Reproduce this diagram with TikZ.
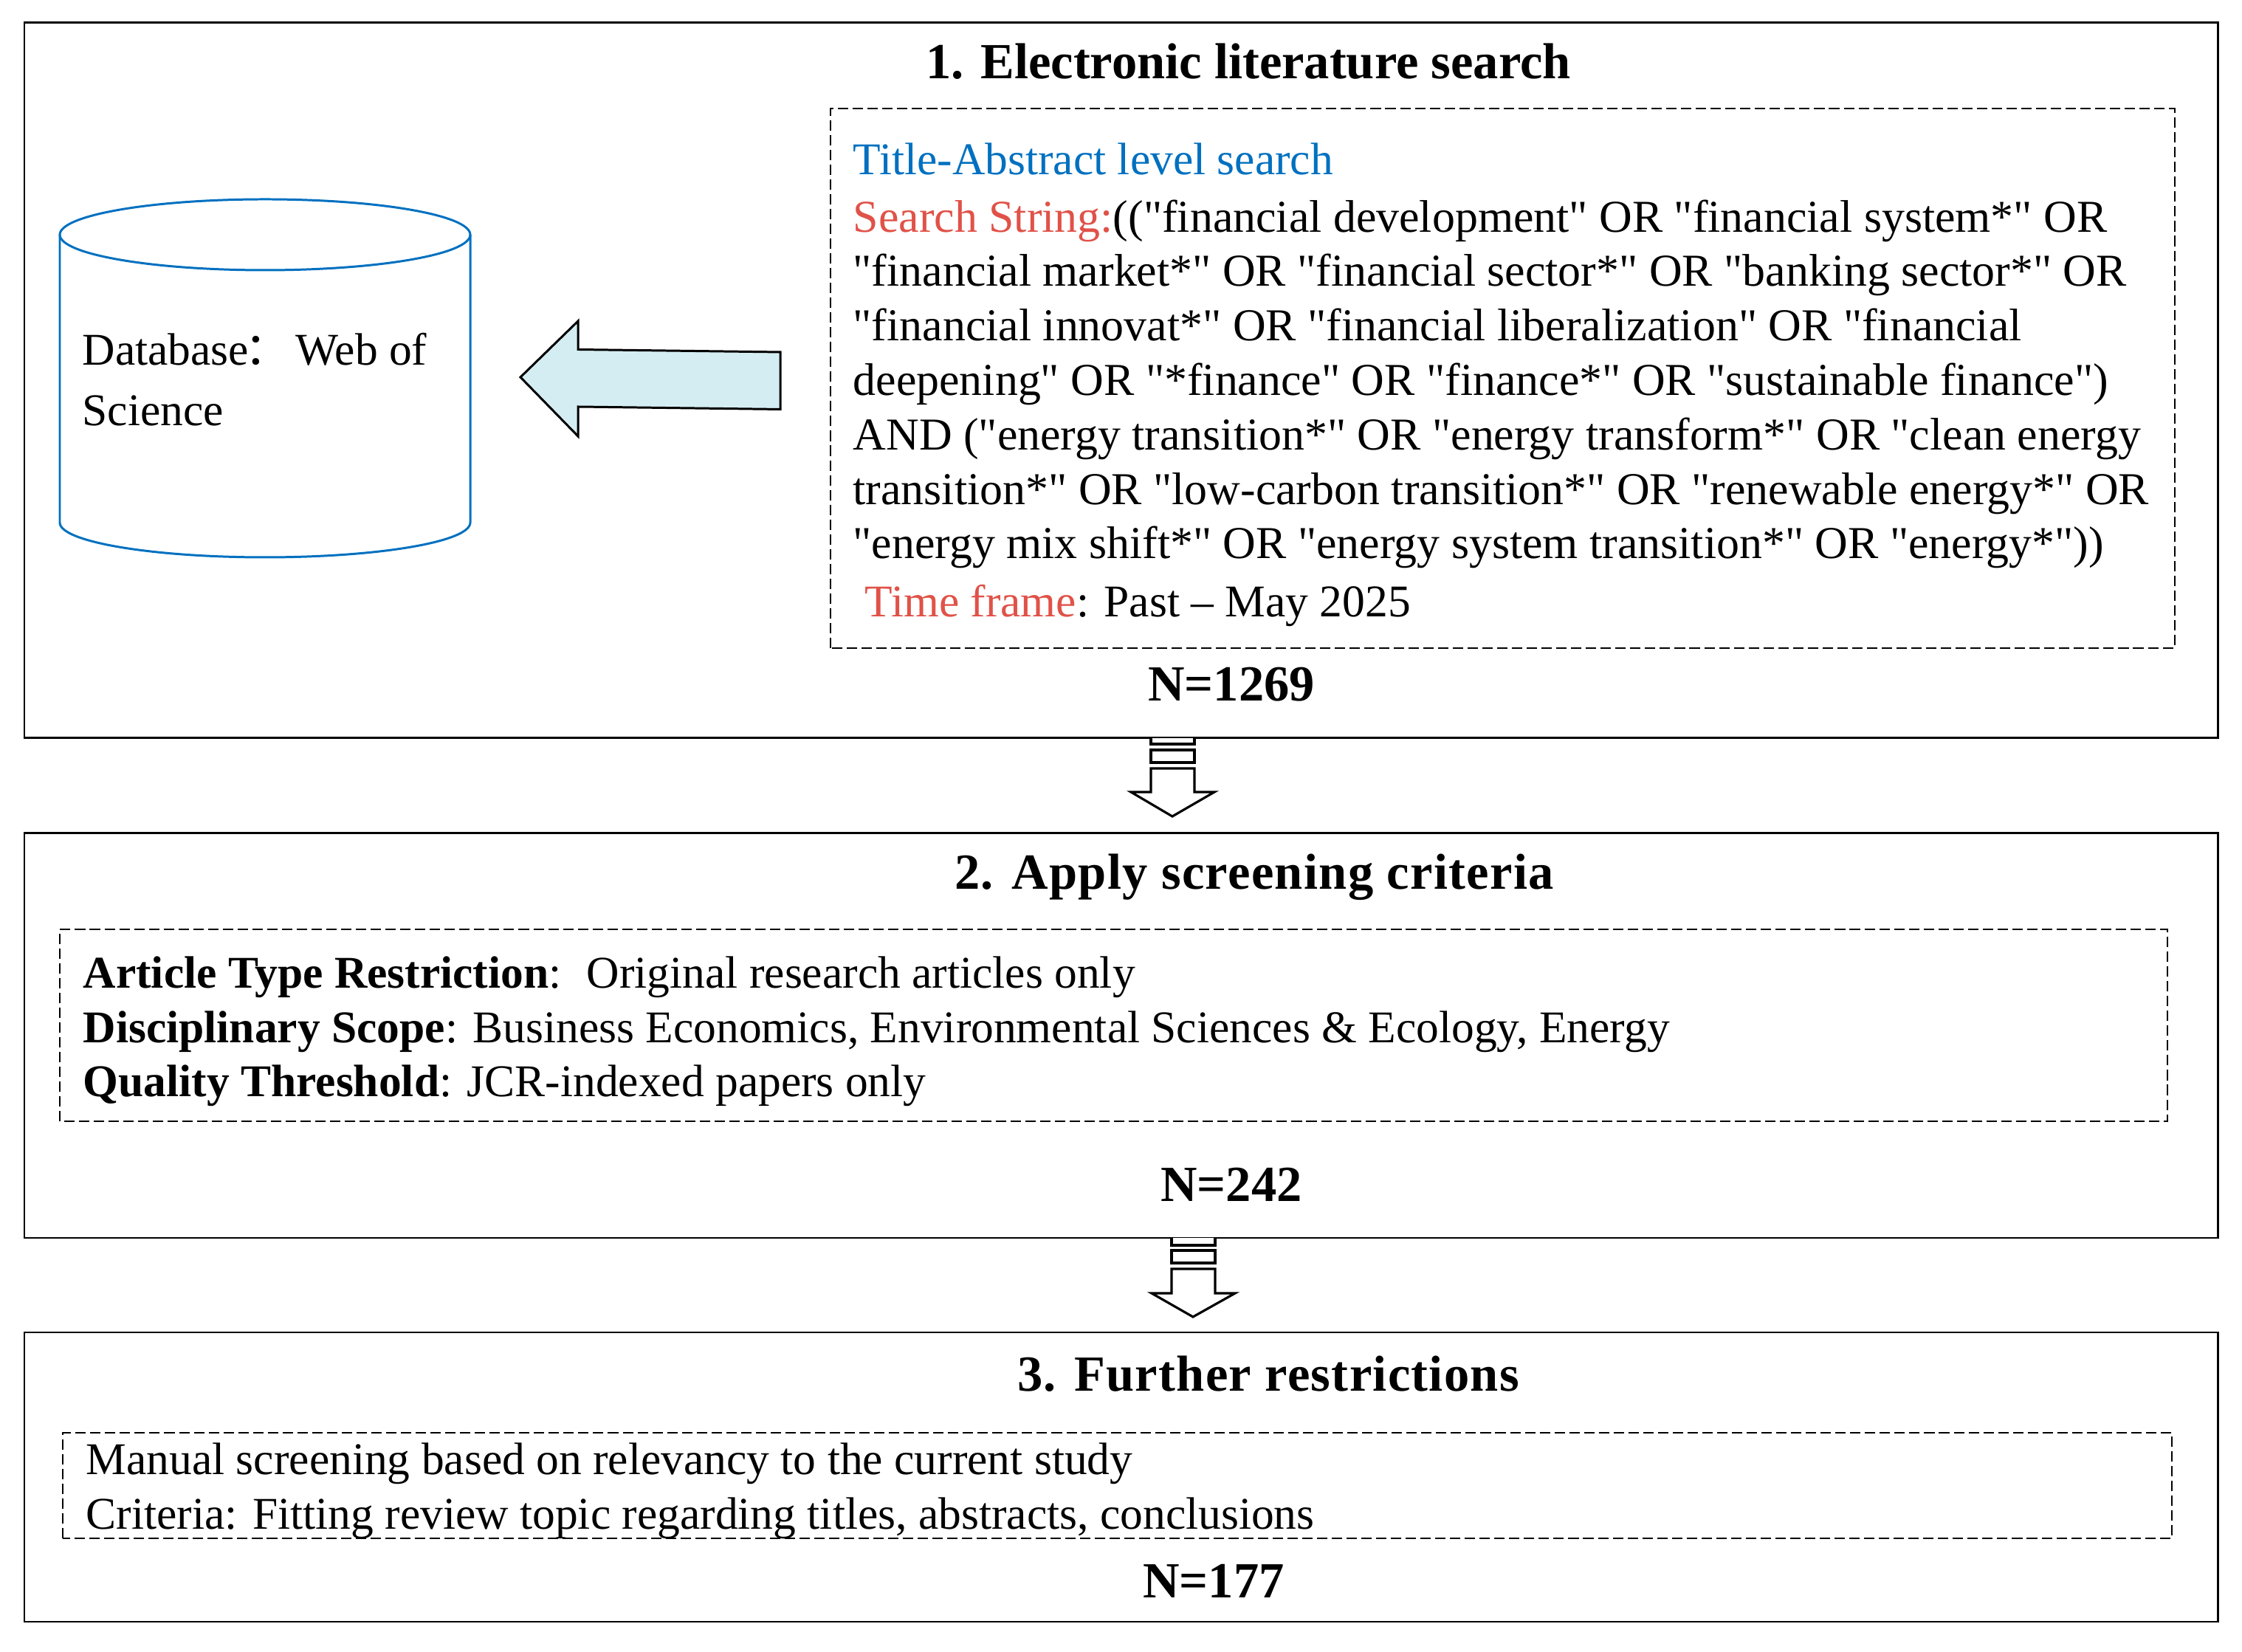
\documentclass[tikz,border=0pt]{standalone}
\usepackage{fontspec}
\setmainfont{Liberation Serif}[Ligatures=TeXOff]
\newfontfamily\cjk{Noto Sans CJK SC}
\definecolor{dbblue}{RGB}{0,112,192}
\definecolor{strred}{RGB}{224,82,72}
\definecolor{arrowfill}{RGB}{212,237,242}
\tikzset{
  stagebox/.style={draw=black, line width=0.85pt},
  dashbox/.style={draw=black, line width=0.8pt, dash pattern=on 4pt off 1.7pt},
  heading/.style={font=\fontsize{19.5}{23}\selectfont\bfseries, anchor=base, inner sep=0pt},
  spaced/.style={font=\fontsize{19.5}{23}\selectfont\bfseries\addfontfeature{LetterSpace=1.9}},
  count/.style={font=\fontsize{19.5}{23}\selectfont\bfseries, anchor=base, inner sep=0pt},
  body/.style={font=\fontsize{17.5}{21}\selectfont, anchor=base west, inner sep=0pt, align=left},
  downarrow/.style={draw=black, line width=0.9pt, fill=white}
}
\begin{document}
\begin{tikzpicture}
    \useasboundingbox (0,0) rectangle (30.37,22.37);

    % Stage 1
    \draw[stagebox] (0.33,12.37) rectangle (30.04,22.06);
    \draw[dashbox] (11.25,13.59) rectangle (29.46,20.90);
    \node[heading] (head1) at (16.91,21.30) {1. Electronic literature search};
    \node[body, text=dbblue] (level) at (11.55,20.00) {Title-Abstract level search};
    \node[body, font=\fontsize{17.6}{21}\selectfont] (string) at (11.55,14.80) {\textcolor{strred}{Search String:}(("financial development" OR "financial system*" OR\\
      "financial market*" OR "financial sector*" OR "banking sector*" OR\\
      "financial innovat*" OR "financial liberalization" OR "financial\\
      deepening" OR "*finance" OR "finance*" OR "sustainable finance")\\
      AND ("energy transition*" OR "energy transform*" OR "clean energy\\
      transition*" OR "low-carbon transition*" OR "renewable energy*" OR\\
      "energy mix shift*" OR "energy system transition*" OR "energy*"))};
    \node[body] (frame) at (11.71,14.01) {\textcolor{strred}{Time frame}: Past – May 2025};
    \node[count] (n1) at (16.68,12.87) {N=1269};

    % Database
    \draw[dbblue, line width=0.85pt, fill=white] (0.81,19.19) -- (0.81,15.29)
      arc[start angle=180, end angle=360, x radius=2.78, y radius=0.47] -- (6.37,19.19);
    \draw[dbblue, line width=0.85pt] (3.59,19.19) ellipse [x radius=2.78, y radius=0.48];
    \node[body, font=\fontsize{17.5}{23.4}\selectfont] (db) at (1.11,16.60) {Database\kern-1.5pt{\cjk：}\kern-2.3pt~Web of\\Science};

    % Arrow to database
    \draw[line width=0.85pt, fill=arrowfill] (7.05,17.26) -- (7.83,18.02) -- (7.83,17.635) -- (10.57,17.60)
      -- (10.57,16.825) -- (7.83,16.86) -- (7.83,16.46) -- cycle;

    % Arrow 1 to 2
    \draw[downarrow] (15.59,12.37) -- (15.59,12.29) -- (16.18,12.29) -- (16.18,12.37);
    \draw[downarrow] (15.59,12.04) rectangle (16.18,12.21);
    \draw[downarrow] (15.59,11.96) -- (16.18,11.96) -- (16.18,11.64) -- (16.45,11.64) -- (15.88,11.31)
      -- (15.32,11.64) -- (15.59,11.64) -- cycle;

    % Stage 2
    \draw[stagebox] (0.33,5.60) rectangle (30.04,11.08);
    \draw[dashbox] (0.81,7.18) rectangle (29.36,9.78);
    \node[heading, spaced] (head2) at (16.99,10.32) {2. Apply screening criteria};
    \node[body] (criteria) at (1.12,7.51) {\textbf{Article Type Restriction}:~~\kern1pt Original research articles only\\
      \textbf{Disciplinary Scope}: Business Economics, Environmental Sciences \& Ecology, Energy\\
      \textbf{Quality Threshold}: JCR-indexed papers only};
    \node[count] (n2) at (16.68,6.09) {N=242};

    % Arrow 2 to 3
    \draw[downarrow] (15.87,5.60) -- (15.87,5.50) -- (16.46,5.50) -- (16.46,5.60);
    \draw[downarrow] (15.87,5.26) rectangle (16.46,5.43);
    \draw[downarrow] (15.87,5.18) -- (16.46,5.18) -- (16.46,4.85) -- (16.73,4.85) -- (16.16,4.53)
      -- (15.60,4.85) -- (15.87,4.85) -- cycle;

    % Stage 3
    \draw[stagebox] (0.33,0.40) rectangle (30.04,4.32);
    \draw[dashbox] (0.85,1.53) rectangle (29.42,2.96);
    \node[heading, spaced] (head3) at (17.18,3.52) {3. Further restrictions};
    \node[body] (manual) at (1.16,1.66) {Manual screening based on relevancy to the current study\\
      Criteria: Fitting review topic regarding titles, abstracts, conclusions};
    \node[count] (n3) at (16.44,0.73) {N=177};
\end{tikzpicture}
\end{document}
